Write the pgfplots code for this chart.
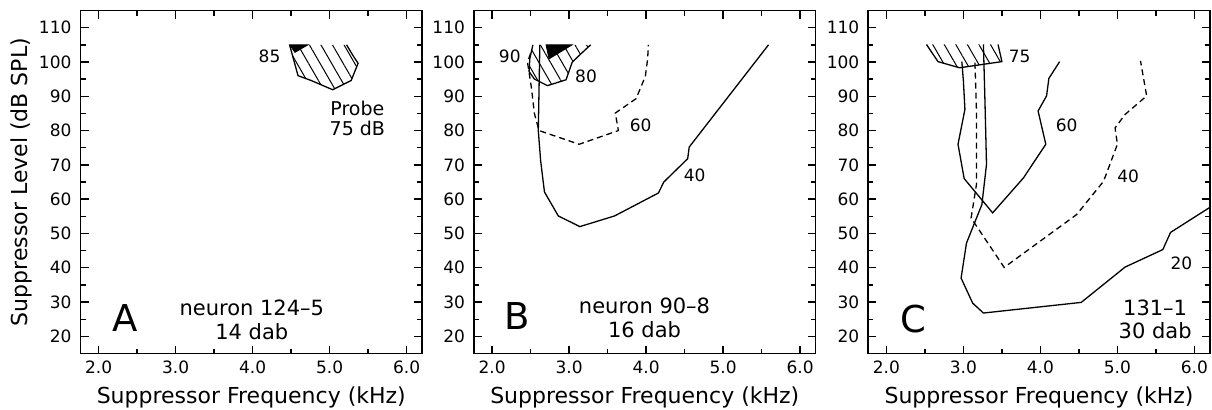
\documentclass[border=0pt]{standalone}
\usepackage{fontspec}
\setmainfont{DejaVu Sans}
\usepackage{pgfplots}
\pgfplotsset{compat=1.18}
\usetikzlibrary{patterns.meta}

\pgfplotsset{
  panel/.style={
    scale only axis, width=170.75pt, height=171.5pt,
    xmin=1.765, xmax=6.2, ymin=15, ymax=115,
    xtick={2,3,4,5,6}, ytick={20,30,...,110},
    minor x tick num=1, minor y tick num=1,
    tick align=inside,
    major tick length=4pt, minor tick length=2.5pt,
    axis line style={line width=0.9pt},
    every tick/.style={black, line width=0.7pt},
    /pgf/number format/assume math mode=true,
    ticklabel style={font=\fontsize{8.5}{10}\selectfont},
    xticklabel style={/pgf/number format/fixed, /pgf/number format/fixed zerofill, /pgf/number format/precision=1},
    yticklabel style={xshift=-1pt},
    xlabel={Suppressor Frequency (kHz)},
    label style={font=\fontsize{11}{13}\selectfont},
    ylabel shift=-3.5pt,
  },
  contour/.style={black, line width=0.65pt, mark=none},
  dashc/.style={contour, dash pattern=on 3pt off 2pt},
  hatch/.style={draw=none, pattern={Lines[angle=-60,distance=5pt,line width=0.5pt]}},
  solidtri/.style={fill=black, draw=black, line width=0.4pt},
}
\newcommand{\lblfont}{\fontsize{8.5}{10}\selectfont}
\newcommand{\probefont}{\fontsize{9.5}{11}\selectfont}
\newcommand{\capfont}{\fontsize{10.5}{12}\selectfont}
\newcommand{\letterfont}{\fontsize{18.5}{20}\selectfont}

\begin{document}
\begin{tikzpicture}
\useasboundingbox (0,0) rectangle (606pt,204.5pt);

% ---------------- Panel A ----------------
\begin{axis}[panel, at={(40.25pt,27.75pt)}, anchor=south west,
  ylabel={Suppressor Level (dB SPL)}]
  \addplot[hatch] coordinates {(4.48,105) (4.59,96.0) (4.76,94.6) (5.04,91.9)
    (5.28,94.6) (5.37,99.6) (5.30,102) (5.22,105)};
  \addplot[contour] coordinates {(4.48,105) (4.59,96.0) (4.76,94.6) (5.04,91.9)
    (5.28,94.6) (5.37,99.6) (5.30,102) (5.22,105)};
  \addplot[solidtri] coordinates {(4.48,105) (4.72,105) (4.55,102.8)} -- cycle;
  \node[font=\lblfont] at (axis cs:4.22,101.6) {85};
  \node[font=\probefont] at (axis cs:5.36,86.5) {Probe};
  \node[font=\probefont] at (axis cs:5.36,80.6) {75 dB};
  \node[font=\letterfont] at (axis cs:2.35,25.4) {A};
  \node[font=\capfont] at (axis cs:3.99,28.3) {neuron 124–5};
  \node[font=\capfont] at (axis cs:3.99,21.3) {14 dab};
\end{axis}

% ---------------- Panel B ----------------
\begin{axis}[panel, at={(237pt,27.75pt)}, anchor=south west]
  % 80 % region (hatched)
  \addplot[hatch] coordinates {(2.53,105) (2.49,101) (2.48,97.2) (2.55,95.0)
    (2.72,93.1) (2.96,94.8) (3.04,99.9) (3.15,102.3) (3.28,105)};
  \addplot[contour] coordinates {(2.53,105) (2.49,101) (2.48,97.2) (2.55,95.0)
    (2.72,93.1) (2.96,94.8) (3.04,99.9) (3.15,102.3) (3.28,105)};
  \addplot[solidtri] coordinates {(2.70,105) (3.04,105) (2.74,100.9)} -- cycle;
  % 60 % contour
  \addplot[dashc] coordinates {(2.50,102.5) (2.46,99.9) (2.51,92.6) (2.55,84.9)
    (2.61,80.0) (3.13,76.0) (3.64,80.0) (3.60,85.1) (3.87,89.3) (3.99,95.8)
    (4.02,100.9) (4.03,105)};
  % 40 % contour
  \addplot[contour] coordinates {(2.62,105) (2.60,80.0) (2.63,71.3) (2.68,62.1)
    (2.86,55.1) (3.14,52.0) (3.59,55.1) (4.16,61.8) (4.23,65.0) (4.54,71.8)
    (4.56,75.2) (5.59,105)};
  \node[font=\lblfont] at (axis cs:2.23,101.6) {90};
  \node[font=\lblfont] at (axis cs:3.22,95.8) {80};
  \node[font=\lblfont] at (axis cs:3.93,81.5) {60};
  \node[font=\lblfont] at (axis cs:4.63,67.0) {40};
  \node[font=\letterfont] at (axis cs:2.33,25.8) {B};
  \node[font=\capfont] at (axis cs:3.98,28.9) {neuron 90–8};
  \node[font=\capfont] at (axis cs:3.98,21.9) {16 dab};
\end{axis}

% ---------------- Panel C ----------------
\begin{axis}[panel, at={(434.15pt,27.75pt)}, anchor=south west]
  % 75 % region (hatched)
  \addplot[hatch] coordinates {(2.52,105.1) (2.67,100.1) (2.95,98.3) (3.50,100.1) (3.45,105.1)};
  \addplot[contour] coordinates {(2.52,105.1) (2.67,100.1) (2.95,98.3) (3.50,100.1) (3.45,105.1)};
  % 60 % contour
  \addplot[contour] coordinates {(2.98,100.1) (3.00,94.4) (3.02,86.2) (2.93,76.0)
    (3.01,66.0) (3.38,56.0) (3.78,66.2) (4.07,76.0) (3.97,85.7) (4.08,90.1)
    (4.11,95.2) (4.25,100.1)};
  % 40 % contour
  \addplot[dashc] coordinates {(3.15,99.8) (3.17,85.7) (3.17,64.3) (3.10,54.5)
    (3.53,40.1) (4.47,55.5) (4.82,65.2) (5.00,76.0) (4.97,80.8) (5.10,84.7)
    (5.38,90.1) (5.30,100.3)};
  % 20 % contour
  \addplot[contour] coordinates {(3.26,105.1) (3.28,88.6) (3.30,70.1) (3.24,58.4)
    (3.04,47.2) (2.97,37.0) (3.12,29.7) (3.26,26.8) (4.53,29.9) (5.10,40.2)
    (5.59,45.3) (5.69,50.3) (6.20,57.6)};
  \node[font=\lblfont] at (axis cs:3.73,101.7) {75};
  \node[font=\lblfont] at (axis cs:4.34,81.6) {60};
  \node[font=\lblfont] at (axis cs:5.14,66.7) {40};
  \node[font=\lblfont] at (axis cs:5.83,41.4) {20};
  \node[font=\letterfont] at (axis cs:2.35,25.0) {C};
  \node[font=\capfont] at (axis cs:5.49,28.4) {131–1};
  \node[font=\capfont] at (axis cs:5.49,21.7) {30 dab};
\end{axis}
\end{tikzpicture}
\end{document}
